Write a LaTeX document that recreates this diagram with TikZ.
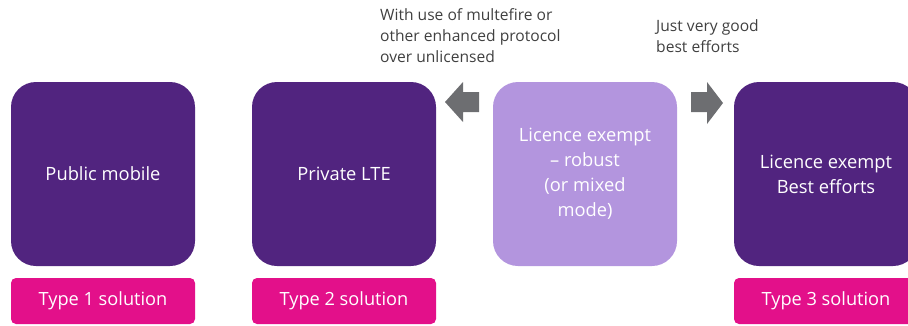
\documentclass[tikz,border=0pt]{standalone}
\usepackage{fontspec}
\setmainfont{Open Sans}
\definecolor{darkpurple}{HTML}{51247F}
\definecolor{lightpurple}{HTML}{B395DE}
\definecolor{typepink}{HTML}{E3108A}
\definecolor{arrowgray}{HTML}{6D6E71}
\definecolor{notegray}{HTML}{404040}
\tikzset{
  optionbox/.style={fill=darkpurple, text=white, rounded corners=25pt, minimum width=184pt, minimum height=184pt, align=center, font=\fontsize{18.3}{25}\selectfont, inner sep=0pt},
  typebox/.style={fill=typepink, text=white, rounded corners=5pt, minimum width=184pt, minimum height=46pt, font=\fontsize{18.2}{20}\selectfont, inner sep=0pt},
  note/.style={align=left, text=notegray, font=\fontsize{15.6}{21}\selectfont, inner sep=0pt, anchor=north west}
}
\begin{document}
\begin{tikzpicture}[x=1pt, y=-1pt]
\useasboundingbox (0,0) rectangle (908,325);
\clip (0,0) rectangle (908,325);
\node[optionbox] (public) at (103,174) {Public mobile};
\node[optionbox] (private) at (344,174) {Private LTE};
\node[optionbox, fill=lightpurple] (robust) at (585,174) {Licence exempt\\-- robust\\(or mixed\\mode)};
\node[optionbox] (best) at (826,174) {Licence exempt\\Best efforts};
\foreach \b/\n in {public/1, private/2, best/3}{
  \node[typebox] (type\n) at (\b.south |- 0,301) {Type \n\ solution};
}
% block arrows between the boxes
\fill[arrowgray] (479,92) -- (463,92) -- (463,82) -- (445,102) -- (463,122) -- (463,112) -- (479,112) -- cycle;
\fill[arrowgray] (691,92) -- (707,92) -- (707,82) -- (723,103) -- (707,124) -- (707,112) -- (691,112) -- cycle;
\node[note] (multefire) at (380,8) {With use of multefire or\\other enhanced protocol\\over unlicensed};
\node[note] (goodeffort) at (656,19) {Just very good\\best efforts};
\end{tikzpicture}
\end{document}
